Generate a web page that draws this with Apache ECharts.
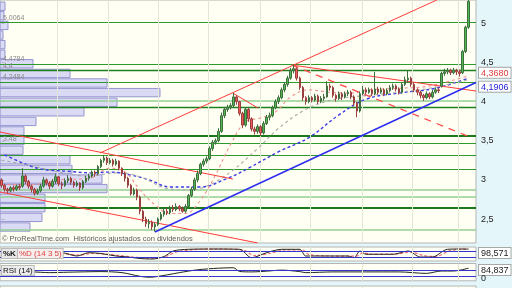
<!DOCTYPE html>
<html><head><meta charset="utf-8">
<script src="https://cdn.jsdelivr.net/npm/echarts/dist/echarts.min.js"></script>
<style>html,body{margin:0;padding:0;background:#e4f6fa;}#c{width:512px;height:288px;}</style>
</head><body><div id="c"></div>
<script>
// ---------- DATA ----------
const candleOpen = [3.00,2.93,2.88,2.86,2.90,2.88,2.92,2.92,3.05,2.98,
2.92,2.88,2.83,2.86,2.92,3.00,2.96,2.92,2.98,3.04,
2.95,2.93,2.99,3.02,2.97,2.93,2.96,2.90,2.98,3.02,
3.05,3.10,3.08,3.17,3.25,3.28,3.22,3.25,3.20,3.24,
3.15,3.08,3.02,2.93,2.82,2.87,2.78,2.60,2.50,2.44,
2.46,2.40,2.43,2.50,2.56,2.60,2.58,2.64,2.62,2.66,
2.63,2.60,2.66,2.80,2.88,3.00,3.08,3.20,3.24,3.27,
3.40,3.48,3.50,3.62,3.82,3.90,3.93,3.95,4.06,4.00,
3.85,3.70,3.90,3.78,3.65,3.62,3.68,3.60,3.72,3.80,
3.82,3.92,4.00,4.05,4.15,4.22,4.30,4.40,4.42,4.30,
4.18,4.05,4.00,4.05,4.02,4.07,4.00,4.04,4.06,4.20,
4.18,4.08,4.04,4.10,4.06,4.10,4.12,4.06,3.98,3.88,
4.10,4.15,4.12,4.15,4.10,4.16,4.12,4.15,4.10,4.14,
4.18,4.20,4.16,4.12,4.22,4.28,4.30,4.22,4.15,4.12,
4.08,4.05,4.10,4.06,4.12,4.15,4.20,4.36,4.38,4.40,
4.37,4.40,4.38,4.37,4.64,4.95];
const candleClose = [2.93,2.88,2.86,2.90,2.88,2.92,2.90,3.05,2.98,2.92,
2.88,2.83,2.86,2.92,3.00,2.96,2.92,2.98,3.04,2.95,
2.93,2.99,3.02,2.97,2.93,2.96,2.90,2.98,3.02,3.05,
3.10,3.08,3.17,3.25,3.28,3.22,3.25,3.20,3.24,3.15,
3.08,3.02,2.93,2.82,2.87,2.78,2.60,2.50,2.44,2.46,
2.40,2.43,2.50,2.56,2.60,2.58,2.64,2.62,2.66,2.63,
2.60,2.66,2.80,2.88,3.00,3.08,3.20,3.24,3.27,3.40,
3.48,3.50,3.62,3.82,3.90,3.93,3.95,4.06,4.00,3.85,
3.70,3.90,3.78,3.65,3.62,3.68,3.60,3.72,3.80,3.82,
3.92,4.00,4.05,4.15,4.22,4.30,4.40,4.42,4.30,4.18,
4.05,4.00,4.05,4.02,4.07,4.00,4.04,4.06,4.20,4.18,
4.08,4.04,4.10,4.06,4.10,4.12,4.06,3.98,3.88,4.10,
4.15,4.12,4.15,4.10,4.16,4.12,4.15,4.10,4.14,4.18,
4.20,4.16,4.12,4.22,4.28,4.30,4.22,4.15,4.12,4.08,
4.05,4.10,4.06,4.12,4.15,4.14,4.36,4.38,4.40,4.37,
4.40,4.38,4.36,4.64,4.95,5.28];
const candleLow = [2.90,2.85,2.83,2.84,2.85,2.86,2.87,2.90,2.95,2.89,
2.84,2.80,2.81,2.84,2.90,2.93,2.88,2.90,2.95,2.92,
2.88,2.91,2.96,2.94,2.90,2.91,2.86,2.88,2.96,2.99,
3.03,3.04,3.06,3.15,3.22,3.19,3.20,3.17,3.18,3.12,
3.05,2.98,2.90,2.80,2.80,2.74,2.56,2.46,2.40,2.38,
2.36,2.34,2.41,2.48,2.53,2.55,2.56,2.59,2.60,2.60,
2.58,2.58,2.65,2.78,2.86,2.97,3.06,3.17,3.21,3.25,
3.37,3.45,3.48,3.60,3.79,3.87,3.90,3.93,3.96,3.82,
3.66,3.68,3.74,3.62,3.58,3.59,3.56,3.58,3.70,3.76,
3.80,3.90,3.97,4.03,4.12,4.19,4.28,4.36,4.27,4.15,
4.01,3.96,3.98,3.99,4.00,3.97,3.98,4.01,4.05,4.14,
4.05,4.00,4.02,4.02,4.04,4.07,4.03,3.94,3.80,3.86,
4.08,4.09,4.10,4.07,4.08,4.09,4.10,4.07,4.08,4.12,
4.15,4.13,4.09,4.10,4.20,4.24,4.19,4.12,4.08,4.04,
4.01,4.03,4.03,4.04,4.10,4.11,4.18,4.33,4.35,4.34,
4.35,4.34,4.32,4.35,4.62,4.93];
const candleHigh = [3.02,2.95,2.90,2.92,2.93,2.94,2.95,3.15,3.07,3.00,
2.94,2.90,2.89,2.95,3.04,3.02,2.98,3.01,3.08,3.05,
2.98,3.02,3.06,3.04,2.99,2.99,2.97,3.00,3.05,3.08,
3.12,3.12,3.19,3.27,3.32,3.30,3.28,3.27,3.27,3.25,
3.16,3.10,3.04,2.95,2.90,2.89,2.80,2.62,2.53,2.50,
2.48,2.46,2.52,2.59,2.63,2.64,2.67,2.68,2.70,2.68,
2.66,2.69,2.82,2.91,3.03,3.12,3.22,3.27,3.30,3.43,
3.51,3.53,3.66,3.86,3.93,3.96,3.98,4.11,4.08,4.01,
3.87,3.93,3.92,3.80,3.68,3.71,3.70,3.75,3.83,3.86,
3.95,4.03,4.08,4.18,4.25,4.33,4.43,4.47,4.44,4.32,
4.20,4.07,4.08,4.07,4.10,4.09,4.07,4.10,4.26,4.23,
4.20,4.10,4.13,4.12,4.13,4.15,4.14,4.08,4.00,4.13,
4.20,4.18,4.18,4.17,4.38,4.19,4.18,4.17,4.17,4.21,
4.23,4.22,4.18,4.25,4.32,4.40,4.32,4.24,4.17,4.14,
4.10,4.13,4.12,4.15,4.18,4.18,4.38,4.42,4.43,4.42,
4.43,4.42,4.41,4.66,4.97,5.30];

// moving averages: [day index, price]
const maShort = [[0,2.94],[10,2.94],[19,3.0],[29,3.02],[36,3.15],[41,3.1],[46,2.87],[51,2.68],[56,2.57],[61,2.57],[66,2.74],[71,3.06],[76,3.45],[81,3.74],[86,3.79],[91,3.87],[96,4.06],[102,4.15],[109,4.12],[116,4.11],[122,4.15],[132,4.17],[142,4.2],[155,4.33]];
const maMid = [[0,3.25],[9,3.19],[19,3.1],[29,3.05],[38,3.09],[46,3.04],[55,2.89],[62,2.87],[68,2.92],[76,3.1],[85,3.4],[92,3.66],[100,3.88],[106,3.98],[112,4.04],[122,4.08],[132,4.12],[142,4.17],[155,4.28]];
const maLong = [[1,3.32],[12,3.15],[22,3.11],[30,3.09],[36,3.1],[43,3.06],[49,3.0],[56,2.91],[66,2.91],[75,3.02],[82,3.15],[92,3.36],[102,3.54],[112,3.83],[121,4.03],[132,4.11],[144,4.17],[155,4.3]];

// trend lines: [[day, price],[day, price]]
const redLines = [
  [[-0.5,3.612],[76.8,3.011]],
  [[32.7,3.344],[144.5,5.298]],
  [[-0.5,2.846],[85.1,2.194]],
  [[76.8,4.109],[85.1,3.918]],
  [[96.4,4.467],[157.5,4.135]]
];
const redDashedLine = [[96.4,4.467],[155.5,3.548]];
const blueLine = [[50.9,2.335],[157.5,4.244]];

// horizontal levels
const levelPrices = [5.0064,4.4784,4.4,4.2484,4.008,3.931,3.561,3.47,3.318,3.14,2.885,2.783,2.655,2.361];
const levelLabels = ['5,0064','4,4784','4,4','4,2484','','','','3,48','','','','','',''];
const levelKind   = ['m','m','d','m','l','d','t','m','m','m','l','l','t','l'];

// volume-by-price profile
const profilePrices = [5.218,5.096,4.973,4.851,4.728,4.605,4.483,4.36,4.238,4.115,3.992,3.87,3.747,3.625,3.502,3.379,3.257,3.134,3.011,2.889,2.766,2.644,2.521,2.398];
const profileVolumes = [5,4,8,3,5,5,33,70,107,160,117,84,36,24,24,23,70,72,102,107,45,45,42,30];
const profileStep = 0.1226;

// month gridlines (day index)
const monthStarts = [18.4,35.3,52,68.5,85.8,102.4,119.6,136.2,151.5];

// price ticks
const priceTicks = [2.5,3,3.5,4,4.5,5];

// stochastic %K, %D and RSI: [day, value]
const stochK = [[0,40],[6,30],[13,15],[20,63],[25,30],[29,63],[33,55],[38,30],[42,20],[46,5],[50,0],[54,25],[57,80],[62,97],[70,100],[79,97],[83,13],[88,63],[93,97],[99,97],[101,30],[106,30],[115,30],[117,13],[119,80],[121,47],[130,47],[135,80],[139,20],[143,20],[148,97],[152,100],[155,99]];
const stochD = [[0,45],[7,32],[14,22],[21,50],[26,40],[30,55],[34,52],[39,35],[43,22],[47,10],[51,5],[55,30],[58,70],[63,92],[71,99],[80,92],[84,35],[89,55],[94,90],[100,90],[102,45],[107,32],[116,28],[118,30],[120,62],[122,50],[131,50],[136,70],[140,35],[144,25],[149,85],[153,98],[155,98]];
const rsi = [[0,45],[6,48],[10,60],[16,55],[22,58],[33,62],[40,55],[46,30],[49,24],[55,40],[59,55],[65,74],[72,85],[77,88],[79,63],[83,60],[88,65],[93,72],[99,62],[101,55],[110,60],[121,60],[132,60],[141,50],[146,66],[150,66],[155,85]];

const stochLast = 98.571, rsiLast = 84.837;
const markRed = 4.3680, markBlue = 4.1906;

// ---------- CHART ----------
const N = candleOpen.length;
const CAT = N + 2;
const categories = Array.from({length: CAT}, (_, i) => String(i));
const XMIN = -0.5, XMAX = CAT - 0.5;
const candles = candleOpen.map((o, i) => [o, candleClose[i], candleLow[i], candleHigh[i]]);
const comma = v => String(v).replace('.', ',');

const PLOT_W = 476;
const gridBase = {left: 0, width: PLOT_W, show: true, backgroundColor: '#fffff3', borderColor: '#b4b4b4', borderWidth: 1};

const vGrid = {silent: true, symbol: ['none','none'], label: {show: false},
  lineStyle: {color: '#e2e6d6', width: 1, type: 'solid'},
  data: monthStarts.map(v => ({xAxis: v}))};

const levelColor = {m: '#2e9a2e', d: '#1f7f1f', l: '#92d092', t: '#1c7a1c'};
const levelWidth = {m: 1.2, d: 1.3, l: 1.6, t: 2.2};
const levelLines = levelPrices.map((p, i) => ({
  yAxis: p,
  lineStyle: {color: levelColor[levelKind[i]], width: levelWidth[levelKind[i]], type: 'solid'},
  label: {show: !!levelLabels[i], formatter: levelLabels[i], position: 'insideStartTop', distance: [3, 1],
    fontSize: 7, color: '#8a8a8a', fontFamily: 'Liberation Sans'}
}));

const hiddenVal = (grid, min, max) => ({type: 'value', gridIndex: grid, min, max, show: false, splitLine: {show: false}});

const option = {
  backgroundColor: '#e4f6fa',
  animation: false,
  grid: [
    Object.assign({top: 0, height: 243}, gridBase),
    Object.assign({top: 247, height: 14}, gridBase),
    Object.assign({top: 263.5, height: 17.3}, gridBase),
    Object.assign({top: 286, height: 20}, gridBase)
  ],
  xAxis: [
    {type: 'category', gridIndex: 0, data: categories, boundaryGap: true, show: false},
    hiddenVal(0, XMIN, XMAX),
    hiddenVal(1, XMIN, XMAX),
    hiddenVal(2, XMIN, XMAX),
    hiddenVal(0, 0, PLOT_W),
    hiddenVal(3, XMIN, XMAX)
  ],
  yAxis: [
    {type: 'value', gridIndex: 0, position: 'right', min: 2.194, max: 5.298,
      splitLine: {show: false},
      axisLine: {show: false},
      axisTick: {show: true, length: 3, lineStyle: {color: '#666'}, customValues: priceTicks},
      axisLabel: {customValues: priceTicks, formatter: comma, fontSize: 9, color: '#222', margin: 5, fontFamily: 'Liberation Sans'}},
    {type: 'value', gridIndex: 1, min: -20, max: 120, show: false},
    {type: 'value', gridIndex: 2, min: 0, max: 116.7, show: false},
    {type: 'value', gridIndex: 3, min: 0, max: 100, show: false}
  ],
  series: [
    {type: 'custom', xAxisIndex: 4, yAxisIndex: 0, z: 1, silent: true,
      data: profilePrices.map((p, i) => [profileVolumes[i], p]),
      renderItem: (params, api) => {
        const vol = api.value(0), p = api.value(1);
        const a = api.coord([0, p + profileStep / 2 - 0.008]);
        const b = api.coord([vol, p - profileStep / 2 + 0.008]);
        return {type: 'rect', shape: {x: a[0], y: a[1], width: b[0] - a[0], height: b[1] - a[1]},
          style: {fill: 'rgba(206,206,246,0.75)', stroke: '#9494d2', lineWidth: 1}};
      }},
    {type: 'line', xAxisIndex: 1, yAxisIndex: 0, data: [], z: 2, silent: true,
      markLine: {silent: true, symbol: ['none','none'], z: 2, data: levelLines.concat(vGrid.data.map(d => ({xAxis: d.xAxis, lineStyle: vGrid.lineStyle, label: {show: false}})))}},
    {type: 'line', xAxisIndex: 1, yAxisIndex: 0, data: maLong, smooth: 0.4, showSymbol: false, z: 3,
      lineStyle: {color: '#3a3ae6', width: 1.4, type: [3, 2.5]}},
    {type: 'line', xAxisIndex: 1, yAxisIndex: 0, data: maMid, smooth: 0.4, showSymbol: false, z: 3,
      lineStyle: {color: '#a8a8a8', width: 1.1, type: [3, 3]}},
    {type: 'line', xAxisIndex: 1, yAxisIndex: 0, data: maShort, smooth: 0.4, showSymbol: false, z: 3,
      lineStyle: {color: '#f09090', width: 1.1, type: [3, 3]}},
    ...redLines.map(l => ({type: 'line', xAxisIndex: 1, yAxisIndex: 0, data: l, showSymbol: false, z: 4,
      lineStyle: {color: '#ff3b3b', width: 1}})),
    {type: 'line', xAxisIndex: 1, yAxisIndex: 0, data: redDashedLine, showSymbol: false, z: 4,
      lineStyle: {color: '#ff4a4a', width: 1.3, type: [7, 6]}},
    {type: 'line', xAxisIndex: 1, yAxisIndex: 0, data: blueLine, showSymbol: false, z: 4,
      lineStyle: {color: '#2e2ef0', width: 1.5}},
    {type: 'candlestick', xAxisIndex: 0, yAxisIndex: 0, data: candles, barWidth: 2, z: 6,
      itemStyle: {color: '#52b852', color0: '#ee5a5a', borderColor: '#3f6f3f', borderColor0: '#9a4040', borderWidth: 1}},
    // stochastic
    {type: 'line', xAxisIndex: 2, yAxisIndex: 1, data: stochD, smooth: 0.3, showSymbol: false, z: 3,
      lineStyle: {color: '#f07070', width: 1.2, type: [3, 2]},
      markLine: {silent: true, symbol: ['none','none'], label: {show: false},
        data: [{yAxis: 80, lineStyle: {color: '#3434d0', width: 1, type: 'solid'}}, {yAxis: 20, lineStyle: {color: '#3434d0', width: 1, type: 'solid'}}]
          .concat(monthStarts.map(v => ({xAxis: v, lineStyle: vGrid.lineStyle})))}},
    {type: 'line', xAxisIndex: 2, yAxisIndex: 1, data: stochK, smooth: 0.3, showSymbol: false, z: 4,
      lineStyle: {color: '#222', width: 1}},
    // RSI
    {type: 'line', xAxisIndex: 3, yAxisIndex: 2, data: rsi, smooth: 0.3, showSymbol: false, z: 4,
      lineStyle: {color: '#222', width: 1},
      markLine: {silent: true, symbol: ['none','none'], label: {show: false},
        data: [{yAxis: 70, lineStyle: {color: '#3434d0', width: 1, type: 'solid'}}, {yAxis: 30, lineStyle: {color: '#3434d0', width: 1, type: 'solid'}}]
          .concat(monthStarts.map(v => ({xAxis: v, lineStyle: vGrid.lineStyle})))}},
    {type: 'line', xAxisIndex: 5, yAxisIndex: 3, data: [], 
      markLine: {silent: true, symbol: ['none','none'], label: {show: false},
        data: monthStarts.map(v => ({xAxis: v, lineStyle: vGrid.lineStyle}))}}
  ]
};

const chart = echarts.init(document.getElementById('c'), null, {renderer: 'canvas'});
chart.setOption(option);

const yRed = chart.convertToPixel({yAxisIndex: 0}, markRed);
const yBlue = chart.convertToPixel({yAxisIndex: 0}, markBlue);
const boxText = (id, text, x, y, color) => ({type: 'text', id, left: x, top: y - 6, z: 50,
  style: {text, fill: color, fontSize: 9, fontFamily: 'Liberation Sans', backgroundColor: '#ffffff',
    borderColor: '#a8a8a8', borderWidth: 1, padding: [1, 2, 0, 2]}});
chart.setOption({graphic: [
  {type: 'text', id: 'src', left: 2, top: 235, z: 50,
    style: {text: '© ProRealTime.com  Históricos ajustados con dividendos', fill: '#5a5a5a', fontSize: 7.5, fontFamily: 'Liberation Sans'}},
  boxText('pRed', comma(markRed.toFixed(4)), 478, yRed, '#e23a3a'),
  boxText('pBlue', comma(markBlue.toFixed(4)), 478, yBlue, '#2424d8'),
  {type: 'text', id: 'kl', left: 1, top: 248, z: 50,
    style: {text: '%K', fill: '#111', fontSize: 8, fontWeight: 'bold', fontFamily: 'Liberation Sans', backgroundColor: '#e8e8e8', borderColor: '#bbb', borderWidth: 1, padding: [1, 1, 0, 1]}},
  {type: 'text', id: 'dl', left: 17, top: 248, z: 50,
    style: {text: '%D (14 3 5)', fill: '#e04040', fontSize: 8, fontFamily: 'Liberation Sans', backgroundColor: '#f6eded', borderColor: '#bbb', borderWidth: 1, padding: [1, 1, 0, 1]}},
  {type: 'text', id: 'rl', left: 1, top: 265, z: 50,
    style: {text: 'RSI (14)', fill: '#111', fontSize: 8, fontFamily: 'Liberation Sans', backgroundColor: '#ececec', borderColor: '#bbb', borderWidth: 1, padding: [1, 1, 0, 1]}},
  boxText('sv', comma(stochLast.toFixed(3)), 478, 253, '#222'),
  boxText('rv', comma(rsiLast.toFixed(3)), 478, 270, '#222'),
  {type: 'text', id: 'z0', left: 481, top: 274, z: 50, style: {text: '0', fill: '#222', fontSize: 9, fontFamily: 'Liberation Sans'}}
]});
</script></body></html>
